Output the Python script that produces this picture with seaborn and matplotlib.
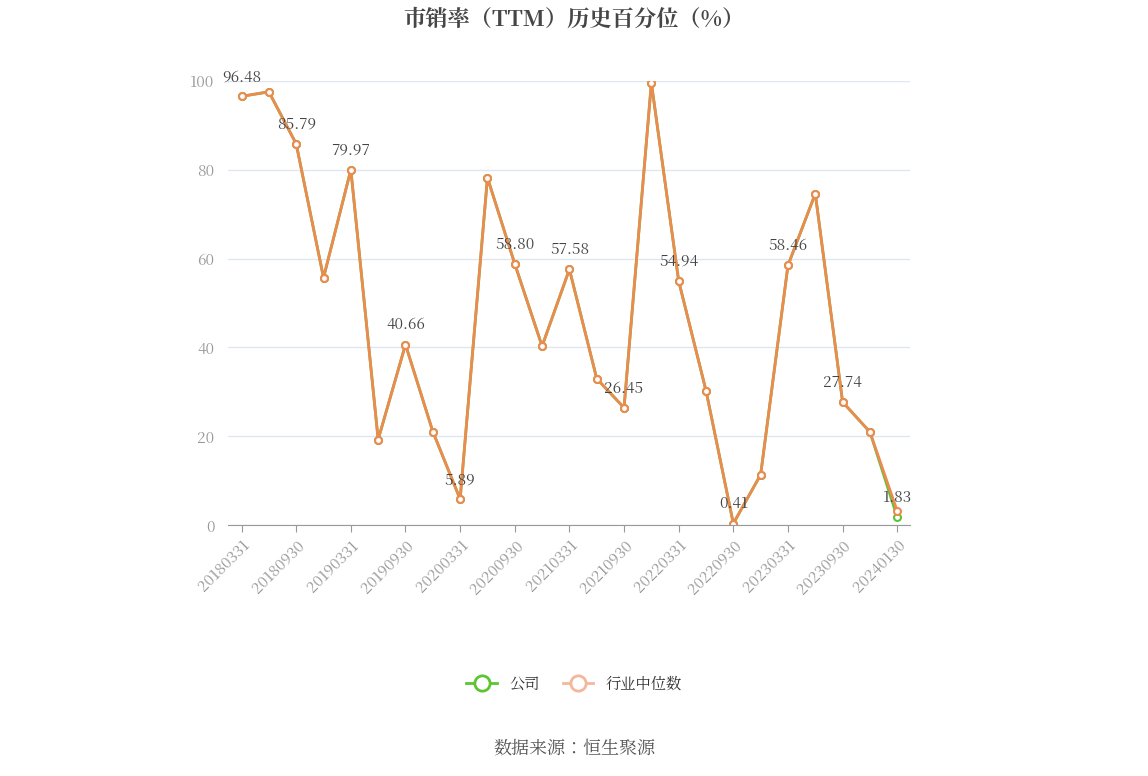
import matplotlib
matplotlib.use("Agg")
import matplotlib.pyplot as plt
from matplotlib import font_manager as fm
import seaborn as sns
import pandas as pd

cjk = [f.name for f in fm.fontManager.ttflist if "CJK" in f.name]
pref = [n for n in cjk if "SC" in n] or cjk
plt.rcParams["font.family"] = "sans-serif"
plt.rcParams["font.sans-serif"] = (pref[:1] if pref else []) + ["Noto Sans CJK SC", "DejaVu Sans"]

dates = ["20180331","20180630","20180930","20181231","20190331","20190630","20190930","20191231",
         "20200331","20200630","20200930","20201231","20210331","20210630","20210930","20211231",
         "20220331","20220630","20220930","20221231","20230331","20230630","20230930","20231231","20240130"]
company = [96.48,97.5,85.79,55.7,79.97,19.3,40.66,21.1,5.89,78.2,58.80,40.3,57.58,33.0,26.45,99.5,
           54.94,30.3,0.41,11.4,58.46,74.6,27.74,21.0,1.83]
industry = [96.48,97.5,85.79,55.7,79.97,19.3,40.66,21.1,5.89,78.2,58.80,40.3,57.58,33.0,26.45,99.5,
            54.94,30.3,0.41,11.4,58.46,74.6,27.74,21.0,3.2]

df = pd.DataFrame({"idx": range(len(dates)), "company": company, "industry": industry})

fig = plt.figure(figsize=(11.48, 7.76), dpi=100)
ax = fig.add_axes([0.199, 0.323, 0.594, 0.573])
green = "#5cc531"; orange = "#ec8a4f"
sns.lineplot(data=df, x="idx", y="company", ax=ax, color=green, lw=2, marker="o",
             markersize=5, markerfacecolor="white", markeredgecolor=green, markeredgewidth=1.5)
sns.lineplot(data=df, x="idx", y="industry", ax=ax, color=orange, lw=2, marker="o",
             markersize=5, markerfacecolor="white", markeredgecolor=orange, markeredgewidth=1.5)
for i in range(0, len(dates), 2):
    ax.annotate(f"{company[i]:.2f}", (i, company[i]), xytext=(0, 8), textcoords="offset points",
                ha="center", va="bottom", fontsize=11, color="#444444")
ax.set_xlim(-0.48, 24.48)
ax.set_ylim(0, 100)
ax.set_yticks(range(0, 101, 20))
ax.set_xticks(range(0, len(dates), 2))
ax.set_xticklabels(dates[::2], rotation=45, ha="right", rotation_mode="anchor", fontsize=11, color="#999999")
ax.tick_params(axis="y", length=0, labelsize=11, labelcolor="#999999", pad=10)
ax.tick_params(axis="x", length=5, color="#999999")
ax.grid(axis="y", color="#e0e6f1", lw=1)
ax.set_axisbelow(True)
for s in ["top", "right", "left"]:
    ax.spines[s].set_visible(False)
ax.spines["bottom"].set_color("#999999")
ax.set_xlabel(""); ax.set_ylabel("")

fig.text(0.5, 0.975, "市销率（TTM）历史百分位（%）", ha="center", va="center", fontsize=16,
         fontweight="bold", color="#464646")
from matplotlib.lines import Line2D
h = [Line2D([], [], color=green, lw=2, marker="o", markersize=11, markerfacecolor="white", markeredgewidth=2),
     Line2D([], [], color="#f5b79b", lw=2, marker="o", markersize=11, markerfacecolor="white", markeredgewidth=2)]
fig.legend(h, ["公司", "行业中位数"], loc="center", bbox_to_anchor=(0.5, 0.118), ncol=2, frameon=False,
           fontsize=11, labelcolor="#333333", handlelength=2, columnspacing=1.5)
fig.text(0.5, 0.035, "数据来源：恒生聚源", ha="center", va="center", fontsize=13, color="#555555")
fig.savefig("out.png", dpi=100)
